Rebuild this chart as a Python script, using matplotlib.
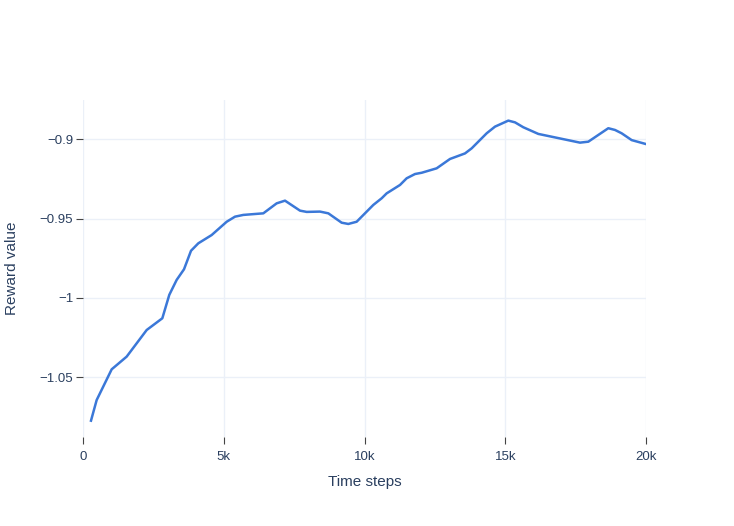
import matplotlib.pyplot as plt
from matplotlib.ticker import FuncFormatter

# time steps and reward values
steps = [284, 485, 1019, 1551, 2262, 2818, 3066, 3327, 3588, 3837, 4097, 4570,
         5104, 5400, 5694, 6405, 6879, 7176, 7709, 7946, 8419, 8715, 9188, 9425,
         9721, 10313, 10610, 10787, 11261, 11497, 11794, 12031, 12563, 13037,
         13570, 13807, 14340, 14636, 15109, 15346, 15642, 16175, 17655, 17951,
         18661, 18899, 19135, 19491, 20000]
reward = [-1.0774, -1.0644, -1.0450, -1.0370, -1.0202, -1.0128, -0.9980, -0.9886,
          -0.9819, -0.9702, -0.9655, -0.9603, -0.9519, -0.9487, -0.9476, -0.9466,
          -0.9403, -0.9386, -0.9449, -0.9457, -0.9455, -0.9466, -0.9525, -0.9533,
          -0.9519, -0.9413, -0.9371, -0.9340, -0.9287, -0.9245, -0.9218, -0.9210,
          -0.9182, -0.9123, -0.9088, -0.9056, -0.8961, -0.8919, -0.8881, -0.8892,
          -0.8923, -0.8965, -0.9020, -0.9014, -0.8929, -0.8940, -0.8961, -0.9004,
          -0.9029]

x_ticks = [0, 5000, 10000, 15000, 20000]
x_tick_labels = ["0", "5k", "10k", "15k", "20k"]
y_ticks = [-1.05, -1.0, -0.95, -0.9]

text_color = "#2a3f5f"
grid_color = "#ebf0f8"

plt.rcParams['font.family'] = ['Liberation Sans', 'DejaVu Sans']

W, H = 734, 526
fig = plt.figure(figsize=(W / 100, H / 100), dpi=100)
left, right, top, bottom = 83, 646, 100, 437
ax = fig.add_axes([left / W, 1 - bottom / H, (right - left) / W, (bottom - top) / H])

ax.plot(steps, reward, color="#3b78d8", linewidth=1.8, solid_joinstyle="round")

ax.set_xlim(0, 20000)
ax.set_ylim(-1.0877, -0.8751)

ax.set_xticks(x_ticks)
ax.set_xticklabels(x_tick_labels)
ax.set_yticks(y_ticks)
ax.yaxis.set_major_formatter(FuncFormatter(lambda v, p: f"{v:g}".replace("-", "\u2212")))

ax.grid(True, color=grid_color, linewidth=1)
ax.set_axisbelow(True)
for s in ax.spines.values():
    s.set_visible(False)

ax.tick_params(axis="both", colors="#444444", labelcolor=text_color, labelsize=9.5,
               length=5, width=0.8, direction="out")
ax.tick_params(axis="x", pad=5)
ax.tick_params(axis="y", pad=2)

ax.set_xlabel("Time steps", color=text_color, fontsize=11, labelpad=9)
ax.set_ylabel("Reward value", color=text_color, fontsize=11)
ax.yaxis.set_label_coords((19 - left) / (right - left), 0.5)

fig.savefig("out.png", dpi=100, facecolor="white")
